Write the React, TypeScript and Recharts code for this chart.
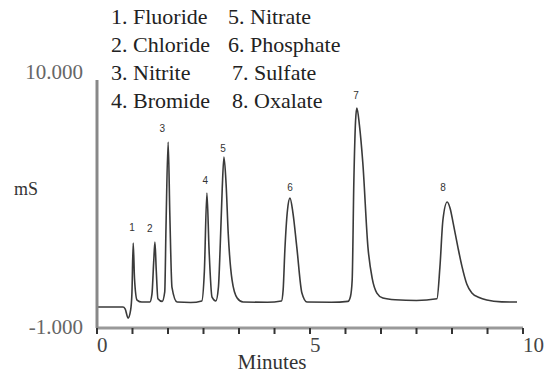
import React from 'react';
import { LineChart, Line, XAxis, YAxis, ReferenceDot } from 'recharts';

// Retention time (minutes) of each traced point of the chromatogram
const times = [
  0, 0.61, 0.66, 0.73, 0.79, 0.82, 0.85, 0.88, 0.94, 1.05,
  1.24, 1.29, 1.33, 1.36, 1.39, 1.43, 1.53, 1.59, 1.62, 1.67,
  1.71, 1.76, 1.88, 2.2, 2.46, 2.52, 2.58, 2.63, 2.7, 2.79,
  2.85, 2.89, 2.94, 2.98, 3.03, 3.08, 3.17, 3.29, 3.43, 4.0,
  4.33, 4.37, 4.41, 4.47, 4.53, 4.6, 4.69, 4.81, 4.93, 5.5,
  5.89, 5.95, 5.99, 6.03, 6.07, 6.1, 6.16, 6.24, 6.36, 6.46,
  6.57, 6.71, 7.0, 7.5, 7.98, 8.05, 8.12, 8.22, 8.29, 8.36,
  8.47, 8.57, 8.68, 8.8, 8.97, 9.15, 9.5, 9.86,
];

// Conductivity (mS) at each of those times
const conductivity = [
  -0.07, -0.07, -0.15, -0.56, -0.2, 0.55, 2.77, 1.2, 0.24, 0.15,
  0.15, 0.5, 1.9, 2.81, 1.6, 0.3, 0.18, 0.6, 3.5, 7.25,
  4.0, 0.8, 0.15, 0.13, 0.2, 1.5, 4.99, 2.5, 0.37, 0.2,
  0.8, 2.5, 5.2, 6.58, 5.4, 3.21, 1.13, 0.33, 0.15, 0.14,
  0.2, 0.7, 2.46, 4.2, 4.76, 4.1, 2.59, 0.55, 0.15, 0.14,
  0.18, 0.4, 1.13, 5.56, 8.2, 8.76, 8.0, 6.32, 2.59, 1.2,
  0.55, 0.33, 0.25, 0.22, 0.3, 1.71, 3.79, 4.59, 4.3, 3.66,
  2.6, 1.71, 0.95, 0.55, 0.35, 0.24, 0.16, 0.15,
];

const legendItems = [
  '1. Fluoride', '2. Chloride', '3. Nitrite', '4. Bromide',
  '5. Nitrate', '6. Phosphate', '7. Sulfate', '8. Oxalate',
];

// Peak number labels, placed just above each peak
const peakLabels = ['1', '2', '3', '4', '5', '6', '7', '8'];
const peakLabelTimes = [0.82, 1.24, 1.53, 2.54, 2.96, 4.53, 6.08, 8.12];
const peakLabelValues = [3.48, 3.43, 7.87, 5.56, 6.98, 5.25, 9.33, 5.25];

const xTicks = [0, 0.833, 1.667, 2.5, 3.333, 4.167, 5, 5.833, 6.667, 7.5, 8.333, 9.167, 10];
const xLabelledTicks = [0, 5, 10];
const yTicks = [-1, 10];
const yTickLabels = ['-1.000', '10.000'];

const data = times.map((t, i) => ({ t, mS: conductivity[i] }));

const SERIF = "'Liberation Serif', 'DejaVu Serif', serif";

const XTick = (props: any) => {
  const { x, y, payload } = props;
  const labelled = xLabelledTicks.includes(payload.value);
  return (
    <g>
      <line x1={x} x2={x} y1={y - 7} y2={y - 1} stroke="#333" strokeWidth={2} />
      {labelled && (
        <text x={x} y={y + 17} fontSize={21} fontFamily={SERIF} fill="#444" textAnchor="start">
          {String(payload.value)}
        </text>
      )}
    </g>
  );
};

const YTick = (props: any) => {
  const { x, y, payload, index } = props;
  const isTop = payload.value === yTicks[yTicks.length - 1];
  return (
    <text x={x - 6} y={isTop ? y - 1 : y + 6} fontSize={21} fontFamily={SERIF} fill="#666" textAnchor="end">
      {yTickLabels[index] ?? String(payload.value)}
    </text>
  );
};

export default function App() {
  return (
    <div style={{ position: 'absolute', left: 0, top: 0, width: 553, height: 373, background: '#fff' }}>
      <LineChart width={553} height={373} data={data} margin={{ top: 80, right: 30, bottom: 0, left: 0 }}>
        <XAxis
          dataKey="t"
          type="number"
          domain={[0, 10]}
          ticks={xTicks}
          interval={0}
          height={45}
          tickSize={5}
          tickMargin={2}
          axisLine={{ stroke: '#999', strokeWidth: 3 }}
          tickLine={false}
          tick={<XTick />}
          label={{ value: 'Minutes', position: 'insideBottom', offset: 4, dx: -38, fontSize: 21, fontFamily: SERIF, fill: '#333' }}
        />
        <YAxis
          type="number"
          domain={[-1, 10]}
          ticks={yTicks}
          interval={0}
          width={97}
          axisLine={{ stroke: '#888', strokeWidth: 3 }}
          tickLine={false}
          tick={<YTick />}
        />
        <Line
          type="monotone"
          dataKey="mS"
          stroke="#3a3a3a"
          strokeWidth={1.6}
          dot={false}
          isAnimationActive={false}
        />
        {peakLabels.map((lbl, i) => (
          <ReferenceDot
            key={lbl}
            x={peakLabelTimes[i]}
            y={peakLabelValues[i]}
            r={0}
            fill="none"
            stroke="none"
            label={{ value: lbl, position: 'center', fontSize: 10, fill: '#333', fontFamily: "'Liberation Sans', Arial, sans-serif" }}
          />
        ))}
      </LineChart>
      {legendItems.map((item, i) => (
        <div
          key={item}
          style={{
            position: 'absolute',
            left: i < 4 ? 111 : i < 6 ? 228 : 232,
            top: 3 + (i % 4) * 28,
            fontFamily: SERIF,
            fontSize: 22,
            lineHeight: '28px',
            color: '#222',
            whiteSpace: 'nowrap',
          }}
        >
          {item}
        </div>
      ))}
      <div
        style={{
          position: 'absolute',
          left: 14,
          top: 177,
          fontFamily: SERIF,
          fontSize: 18,
          lineHeight: '24px',
          color: '#333',
        }}
      >
        mS
      </div>
    </div>
  );
}
